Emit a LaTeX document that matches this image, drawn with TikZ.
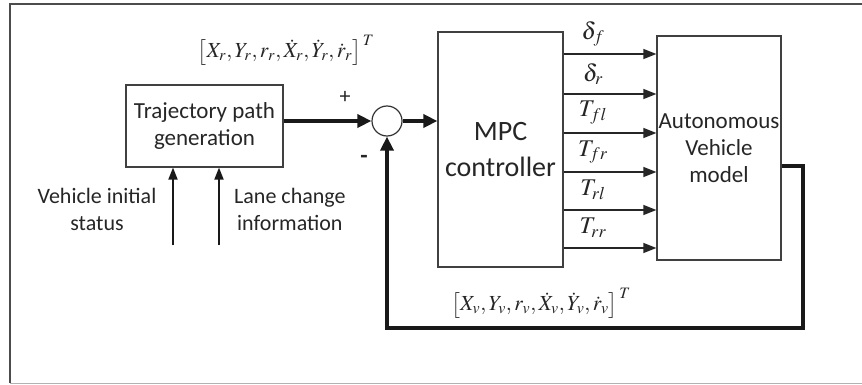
\documentclass[tikz,border=0pt]{standalone}
\usepackage{mathptmx}
\usepackage[no-math]{fontspec}
\setmainfont{Carlito}
\usetikzlibrary{arrows.meta,calc}

\tikzset{
  block/.style={draw=black!75, line width=1.2pt, fill=white, align=center,
                inner sep=0pt, font=\fontsize{23}{26}\selectfont, text=black!85},
  junction/.style={draw=black!80, line width=1.2pt, circle, minimum size=30pt, inner sep=0pt},
  bigflow/.style={line width=3.6pt, draw=black!90,
                  -{Triangle[length=14pt,width=13pt]}},
  flow/.style={line width=1.3pt, draw=black!85,
               -{Triangle[length=13pt,width=10pt]}},
  inflow/.style={line width=1.8pt, draw=black!90,
                 -{Triangle[length=12pt,width=9pt]}},
  label/.style={font=\fontsize{22}{25}\selectfont, text=black!85, align=center, inner sep=0pt},
  sig/.style={font=\fontsize{24}{26}\selectfont, text=black!85, inner sep=0pt},
  vec/.style={font=\fontsize{21.5}{24}\selectfont, text=black!85, inner sep=0pt}
}

\begin{document}
\begin{tikzpicture}[x=1pt,y=-1pt]
  % canvas and frame
  \fill[white] (0,0) rectangle (862,385);
  \useasboundingbox (0,0) rectangle (862,385);
  \draw[black!70, line width=1.2pt] (862,4) -- (10,4) -- (10,383);
  \draw[black!30, line width=1pt] (10,383) -- (862,383);

  % blocks
  \node[block, minimum width=157pt, minimum height=82pt] (traj) at (204.5,126)
       {Trajectory path\\[1pt]generation};
  \node[junction] (sum) at (387,121) {};
  \node[block, minimum width=125pt, minimum height=235pt,
        font=\fontsize{28}{32}\selectfont] (mpc) at (500.5,149.5)
       {MPC\\[4pt]controller};
  \node[block, minimum width=124pt, minimum height=224pt] (av) at (719,148)
       {Autonomous\\[1pt]Vehicle\\[1pt]model};

  % reference path and sum output
  \draw[bigflow] (traj.east |- sum) -- (sum.west);
  \draw[bigflow] (sum.east) -- (mpc.west |- sum);
  \node[vec] (ref) at (286,50)
       {$\left[X_r, Y_r, r_r, \dot X_r, \dot Y_r, \dot r_r\right]^{\,T}$};
  \node[label, font=\fontsize{22}{22}\selectfont] (plus) at (345,97) {+};
  \node[label, font=\fontsize{24}{24}\selectfont\bfseries] (minus) at (364,159) {-};

  % control inputs
  \foreach \yy/\lab [count=\i] in {54/\delta_f, 94/\delta_r, 133/T_{fl},
                                   172/T_{fr}, 210/T_{rl}, 248/T_{rr}} {
    \draw[flow] (mpc.east |- 0,\yy) -- (av.west |- 0,\yy);
    \node[sig] (u\i) at (593,\yy-20) {$\lab$};
  }

  % feedback loop
  \coordinate (fbA) at (803,166);
  \coordinate (fbB) at (803,328);
  \draw[line width=3.6pt, draw=black!90, line join=miter,
        -{Triangle[length=14pt,width=13pt]}]
       (av.east |- fbA) -- (fbA) -- (fbB) -- (sum |- fbB) -- (sum.south);
  \node[vec] (state) at (541,303)
       {$\left[X_v, Y_v, r_v, \dot X_v, \dot Y_v, \dot r_v\right]^{\,T}$};

  % external inputs to the trajectory generator
  \coordinate (inA) at (173,245);
  \coordinate (inB) at (219,245);
  \draw[inflow] (inA) -- (inA |- traj.south);
  \draw[inflow] (inB) -- (inB |- traj.south);
  \node[label] (vis) at (97,209) {Vehicle initial\\[2pt]status};
  \node[label, anchor=west] (lci) at (234,209) {Lane change\\[2pt]information};
\end{tikzpicture}
\end{document}
